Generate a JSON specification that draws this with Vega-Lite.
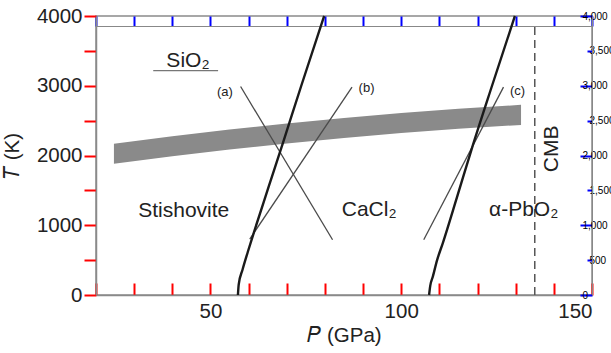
{
  "$schema": "https://vega.github.io/schema/vega-lite/v6.json",
  "width": 496,
  "height": 279,
  "autosize": {"type": "none"},
  "padding": {"left": 96, "top": 16, "right": 19, "bottom": 58},
  "config": {
    "view": {"stroke": "#8a8a8a", "strokeWidth": 1.5},
    "font": "Liberation Sans"
  },
  "datasets": {
    "band": [
      {"P": 24.7, "top": 2168, "bottom": 1881},
      {"P": 40, "top": 2275, "bottom": 1988},
      {"P": 55, "top": 2372, "bottom": 2085},
      {"P": 70, "top": 2460, "bottom": 2173},
      {"P": 85, "top": 2538, "bottom": 2251},
      {"P": 100, "top": 2608, "bottom": 2321},
      {"P": 115, "top": 2669, "bottom": 2382},
      {"P": 131.4, "top": 2726, "bottom": 2439}
    ],
    "thick": [
      {"curve": "1", "P": 57.2, "T": 0},
      {"curve": "1", "P": 57.4, "T": 150},
      {"curve": "1", "P": 58.4, "T": 362},
      {"curve": "1", "P": 59.8, "T": 620},
      {"curve": "1", "P": 61.6, "T": 935},
      {"curve": "1", "P": 65.3, "T": 1560},
      {"curve": "1", "P": 69.0, "T": 2182},
      {"curve": "1", "P": 73.8, "T": 3000},
      {"curve": "1", "P": 79.8, "T": 4000},
      {"curve": "2", "P": 107.3, "T": 0},
      {"curve": "2", "P": 107.6, "T": 130},
      {"curve": "2", "P": 108.3, "T": 267},
      {"curve": "2", "P": 109.4, "T": 500},
      {"curve": "2", "P": 110.9, "T": 745},
      {"curve": "2", "P": 114.6, "T": 1400},
      {"curve": "2", "P": 118.4, "T": 2082},
      {"curve": "2", "P": 123.8, "T": 3000},
      {"curve": "2", "P": 129.8, "T": 4000}
    ],
    "thin": [
      {"line": "a", "P": 57.9, "T": 2989},
      {"line": "a", "P": 82.0, "T": 792},
      {"line": "b", "P": 60.3, "T": 802},
      {"line": "b", "P": 87.1, "T": 2980},
      {"line": "c", "P": 105.9, "T": 792},
      {"line": "c", "P": 126.8, "T": 2980}
    ],
    "big": [
      {"label": "SiO₂", "P": 44.1, "T": 3274},
      {"label": "Stishovite", "P": 43.0, "T": 1117},
      {"label": "CaCl₂", "P": 91.6, "T": 1126},
      {"label": "α-PbO₂", "P": 132.1, "T": 1126}
    ],
    "small": [
      {"label": "(a)", "P": 53.8, "T": 2858},
      {"label": "(b)", "P": 90.9, "T": 2906},
      {"label": "(c)", "P": 130.5, "T": 2873}
    ]
  },
  "layer": [
    {
      "data": {"name": "band"},
      "mark": {"type": "area", "color": "#8a8a8a", "opacity": 1},
      "encoding": {
        "x": {
          "field": "P", "type": "quantitative",
          "scale": {"domain": [20, 150], "nice": false},
          "axis": {
            "orient": "bottom",
            "title": "𝑃 (GPa)",
            "tickCount": 13,
            "grid": false,
            "domainColor": "#8a8a8a",
            "domainWidth": 1.5,
            "tickColor": "red",
            "tickWidth": 2,
            "tickSize": -12,
            "labelExpr": "datum.value % 50 === 0 ? datum.label : ''",
            "labelFont": "Liberation Sans",
            "labelFontSize": 20.5,
            "labelColor": "#222",
            "labelPadding": 18,
            "titleFont": "Liberation Sans",
            "titleFontSize": 20.5,
            "titleFontWeight": "normal",
            "titleColor": "#222",
            "titlePadding": 4
          }
        },
        "y": {
          "field": "top", "type": "quantitative",
          "scale": {"domain": [0, 4000], "nice": false},
          "axis": {
            "orient": "left",
            "title": "𝑇 (K)",
            "format": "d",
            "tickCount": 8,
            "grid": false,
            "domainColor": "#8a8a8a",
            "domainWidth": 1.5,
            "tickColor": "red",
            "tickWidth": 2,
            "tickSize": 12,
            "labelExpr": "datum.value % 1000 === 0 ? datum.label : ''",
            "labelFont": "Liberation Sans",
            "labelFontSize": 20.5,
            "labelColor": "#222",
            "labelPadding": 2,
            "titleFont": "Liberation Sans",
            "titleFontSize": 20.5,
            "titleFontWeight": "normal",
            "titleColor": "#222",
            "titlePadding": 14
          }
        },
        "y2": {"field": "bottom"}
      }
    },
    {
      "data": {"name": "thin"},
      "mark": {"type": "line", "color": "#4a4a4a", "strokeWidth": 1.3},
      "encoding": {
        "x": {"field": "P", "type": "quantitative", "axis": null},
        "y": {"field": "T", "type": "quantitative", "axis": null},
        "detail": {"field": "line"}
      }
    },
    {
      "data": {"name": "thick"},
      "mark": {"type": "line", "color": "#1a1a1a", "strokeWidth": 2.4, "interpolate": "monotone"},
      "encoding": {
        "x": {
          "field": "P", "type": "quantitative",
          "axis": {
            "orient": "top", "title": null, "labels": false, "grid": false,
            "tickCount": 13,
            "tickColor": "blue", "tickWidth": 2,
            "tickSize": 10, "offset": -10
          }
        },
        "y": {
          "field": "T", "type": "quantitative",
          "axis": {
            "orient": "right", "title": null, "grid": false,
            "tickCount": 8,
            "tickColor": "blue", "tickWidth": 2,
            "tickSize": {"condition": {"test": "datum.value % 1000 === 0", "value": -12}, "value": -5}
          }
        },
        "detail": {"field": "curve"},
        "order": {"field": "T"}
      }
    },
    {
      "data": {"values": [{"P": 135, "T0": 0, "T1": 3890}]},
      "mark": {"type": "rule", "color": "#555", "strokeWidth": 1.5, "strokeDash": [8, 5]},
      "encoding": {
        "x": {"field": "P", "type": "quantitative", "axis": null},
        "y": {"field": "T0", "type": "quantitative", "axis": null},
        "y2": {"field": "T1"}
      }
    },
    {
      "data": {"values": [{"P0": 35.0, "P1": 52.0, "T": 3216}]},
      "mark": {"type": "rule", "color": "#777", "strokeWidth": 1.2},
      "encoding": {
        "x": {"field": "P0", "type": "quantitative", "axis": null},
        "x2": {"field": "P1"},
        "y": {"field": "T", "type": "quantitative", "axis": null}
      }
    },
    {
      "data": {"name": "big"},
      "mark": {"type": "text", "fontSize": 21, "align": "center", "baseline": "alphabetic", "color": "#222", "font": "Liberation Sans"},
      "encoding": {
        "x": {"field": "P", "type": "quantitative", "axis": null},
        "y": {"field": "T", "type": "quantitative", "axis": null},
        "text": {"field": "label"}
      }
    },
    {
      "data": {"name": "small"},
      "mark": {"type": "text", "fontSize": 13, "align": "center", "baseline": "alphabetic", "color": "#222", "font": "Liberation Sans"},
      "encoding": {
        "x": {"field": "P", "type": "quantitative", "axis": null},
        "y": {"field": "T", "type": "quantitative", "axis": null},
        "text": {"field": "label"}
      }
    },
    {
      "data": {"values": [{"label": "CMB", "P": 141.0, "T": 2095}]},
      "mark": {"type": "text", "fontSize": 21, "align": "center", "baseline": "alphabetic", "angle": 270, "color": "#222", "font": "Liberation Sans"},
      "encoding": {
        "x": {"field": "P", "type": "quantitative", "axis": null},
        "y": {"field": "T", "type": "quantitative", "axis": null},
        "text": {"field": "label"}
      }
    }
  ],
  "resolve": {"axis": {"x": "independent", "y": "independent"}}
}
